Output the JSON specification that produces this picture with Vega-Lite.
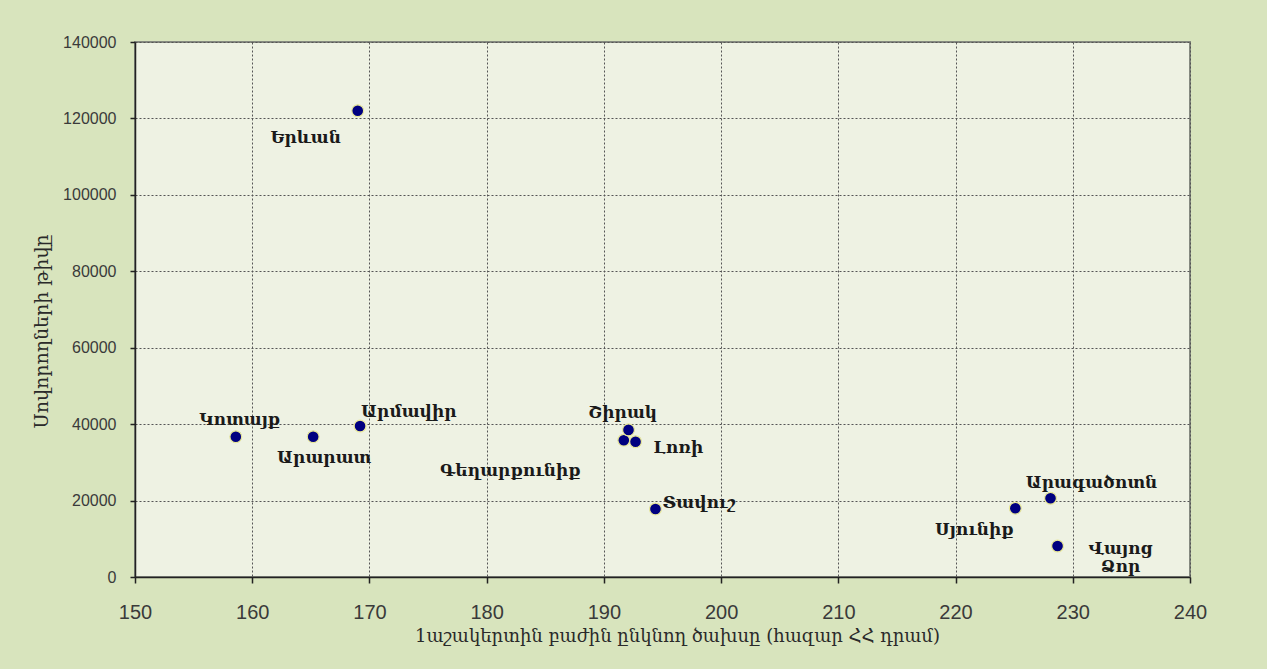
{
  "$schema": "https://vega.github.io/schema/vega-lite/v6.json",
  "width": 1055,
  "height": 535,
  "autosize": {"type": "none"},
  "padding": {"left": 135, "top": 42, "right": 77, "bottom": 92},
  "background": "#D8E4BD",
  "config": {
    "view": {"fill": "#EEF2E3", "stroke": "#858a80", "strokeWidth": 2},
    "axis": {
      "grid": true,
      "gridColor": "#555555",
      "gridDash": [2, 2],
      "gridWidth": 1,
      "domainColor": "#222222",
      "domainWidth": 1.5,
      "tickColor": "#222222",
      "tickWidth": 1.5,
      "labelFont": "Liberation Sans",
      "labelColor": "#3a3a3a",
      "titleFont": "DejaVu Serif",
      "titleFontWeight": "normal",
      "titleColor": "#2a2a2a"
    },
    "text": {"font": "DejaVu Serif", "fontSize": 17, "fontWeight": "bold", "color": "#1a1a1a", "baseline": "middle"}
  },
  "data": {
    "values": [
      {"name": "Երևան", "cost": 169.0, "students": 122000},
      {"name": "Կոտայք", "cost": 158.6, "students": 36700},
      {"name": "Արարատ", "cost": 165.2, "students": 36700},
      {"name": "Արմավիր", "cost": 169.2, "students": 39500},
      {"name": "Գեղարքունիք", "cost": 191.7, "students": 35800},
      {"name": "Շիրակ", "cost": 192.1, "students": 38500},
      {"name": "Լոռի", "cost": 192.7, "students": 35400},
      {"name": "Տավուշ", "cost": 194.4, "students": 17800},
      {"name": "Սյունիք", "cost": 225.1, "students": 18000},
      {"name": "Արագածոտն", "cost": 228.1, "students": 20600},
      {"name": "Վայոց Ձոր", "cost": 228.7, "students": 8100}
    ]
  },
  "encoding": {
    "x": {
      "field": "cost",
      "type": "quantitative",
      "scale": {"domain": [150, 240], "nice": false, "zero": false},
      "axis": {
        "values": [150, 160, 170, 180, 190, 200, 210, 220, 230, 240],
        "title": "1աշակերտին բաժին ընկնող ծախսը (հազար ՀՀ դրամ)",
        "titleFontSize": 18,
        "titleX": 542,
        "titlePadding": 5,
        "labelFontSize": 20,
        "labelPadding": 19,
        "tickSize": 6,
        "labelFlush": false
      }
    },
    "y": {
      "field": "students",
      "type": "quantitative",
      "scale": {"domain": [0, 140000], "nice": false},
      "axis": {
        "values": [0, 20000, 40000, 60000, 80000, 100000, 120000, 140000],
        "format": "d",
        "title": "Սովորողների թիվը",
        "titleFontSize": 19,
        "titleY": 289,
        "titlePadding": 11,
        "labelFontSize": 16,
        "labelPadding": 14,
        "tickSize": 5,
        "labelFlush": false
      }
    }
  },
  "layer": [
    {
      "mark": {"type": "point", "filled": true, "shape": "circle", "size": 140, "fill": "#000080", "stroke": "#e8e89a", "strokeWidth": 1.2, "opacity": 1}
    },
    {"transform": [{"filter": {"field": "name", "equal": "Երևան"}}], "mark": {"type": "text", "align": "center", "dx": -52, "dy": 27}, "encoding": {"text": {"field": "name"}}},
    {"transform": [{"filter": {"field": "name", "equal": "Կոտայք"}}], "mark": {"type": "text", "align": "center", "dx": 4, "dy": -17}, "encoding": {"text": {"field": "name"}}},
    {"transform": [{"filter": {"field": "name", "equal": "Արարատ"}}], "mark": {"type": "text", "align": "center", "dx": 11, "dy": 21}, "encoding": {"text": {"field": "name"}}},
    {"transform": [{"filter": {"field": "name", "equal": "Արմավիր"}}], "mark": {"type": "text", "align": "left", "dx": 1, "dy": -14}, "encoding": {"text": {"field": "name"}}},
    {"transform": [{"filter": {"field": "name", "equal": "Շիրակ"}}], "mark": {"type": "text", "align": "center", "dx": -6, "dy": -17}, "encoding": {"text": {"field": "name"}}},
    {"transform": [{"filter": {"field": "name", "equal": "Լոռի"}}], "mark": {"type": "text", "align": "left", "dx": 18, "dy": 6}, "encoding": {"text": {"field": "name"}}},
    {"transform": [{"filter": {"field": "name", "equal": "Գեղարքունիք"}}], "mark": {"type": "text", "align": "right", "dx": -43, "dy": 31}, "encoding": {"text": {"field": "name"}}},
    {"transform": [{"filter": {"field": "name", "equal": "Տավուշ"}}], "mark": {"type": "text", "align": "left", "dx": 7, "dy": -6}, "encoding": {"text": {"field": "name"}}},
    {"transform": [{"filter": {"field": "name", "equal": "Արագածոտն"}}], "mark": {"type": "text", "align": "center", "dx": 41, "dy": -15}, "encoding": {"text": {"field": "name"}}},
    {"transform": [{"filter": {"field": "name", "equal": "Սյունիք"}}], "mark": {"type": "text", "align": "center", "dx": -41, "dy": 22}, "encoding": {"text": {"field": "name"}}},
    {"transform": [{"filter": {"field": "name", "equal": "Վայոց Ձոր"}}], "mark": {"type": "text", "align": "center", "dx": 63, "dy": 3, "lineBreak": " ", "lineHeight": 18}, "encoding": {"text": {"field": "name"}}}
  ]
}
